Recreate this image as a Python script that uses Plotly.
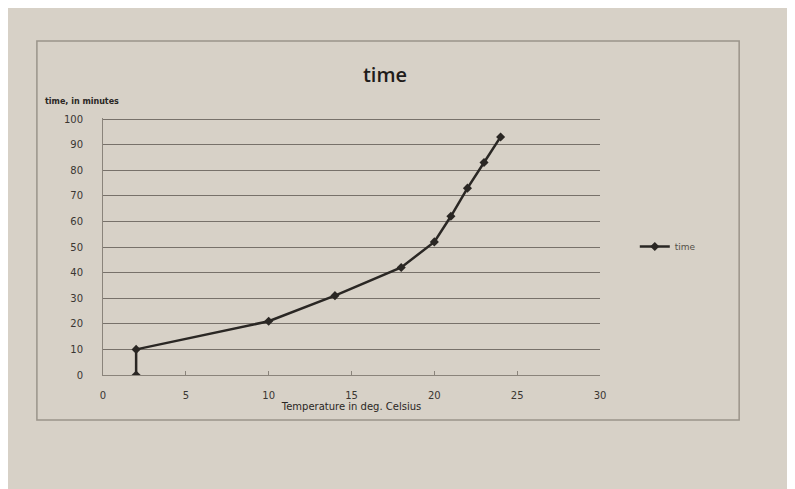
import plotly.graph_objects as go

temperature = [2, 2, 10, 14, 18, 20, 21, 22, 23, 24]
minutes = [0, 10, 21, 31, 42, 52, 62, 73, 83, 93]
x_ticks = [0, 5, 10, 15, 20, 25, 30]
y_ticks = [0, 10, 20, 30, 40, 50, 60, 70, 80, 90, 100]

bg = "#d7d1c7"
ink = "#2a2724"

fig = go.Figure()
fig.add_trace(go.Scatter(
    x=temperature, y=minutes, mode="lines+markers", name="time",
    line=dict(color=ink, width=2.5),
    marker=dict(symbol="diamond", size=7, color=ink),
))

fig.update_layout(
    width=795, height=489,
    margin=dict(l=95, r=203, t=110, b=122),
    paper_bgcolor=bg, plot_bgcolor=bg,
    font=dict(family="DejaVu Sans", color=ink, size=10),
    title=dict(text="time", x=377 / 795, xanchor="center", y=1 - 67 / 489,
               yanchor="middle", font=dict(size=20, family="Open Sans", weight=600, color="#1f1c1a")),
    showlegend=True,
    legend=dict(x=1.07, y=0.5, xanchor="left", yanchor="middle",
                bgcolor="rgba(0,0,0,0)", font=dict(size=9, color="#555049")),
    xaxis=dict(range=[0, 30], tickvals=x_ticks, showgrid=False, zeroline=False,
               showline=True, linecolor="#8a847b", linewidth=1,
               ticks="inside", ticklen=4, tickcolor="#8a847b",
               tickfont=dict(size=10, color="#3a3632"), ticklabelstandoff=11,
               title=dict(text="Temperature in deg. Celsius", standoff=0,
                          font=dict(size=10, color="#2a2724"))),
    yaxis=dict(range=[0, 100.4], tickvals=y_ticks, showgrid=True, gridcolor="#77716a",
               gridwidth=1, zeroline=False, showline=True, linecolor="#8a847b",
               tickfont=dict(size=10, color="#3a3632"), ticks="", ticklabelstandoff=17),
    annotations=[dict(text="<b>time, in minutes</b>", xref="paper", yref="paper",
                      x=-0.12, y=1.065, xanchor="left", yanchor="middle", showarrow=False,
                      font=dict(size=8, color="#2a2724"))],
    shapes=[dict(type="rect", xref="paper", yref="paper", x0=-0.133, x1=1.28,
                 y0=-0.175, y1=1.30, line=dict(color="#9a948a", width=1.5))],
)

fig.write_html("out.html")
